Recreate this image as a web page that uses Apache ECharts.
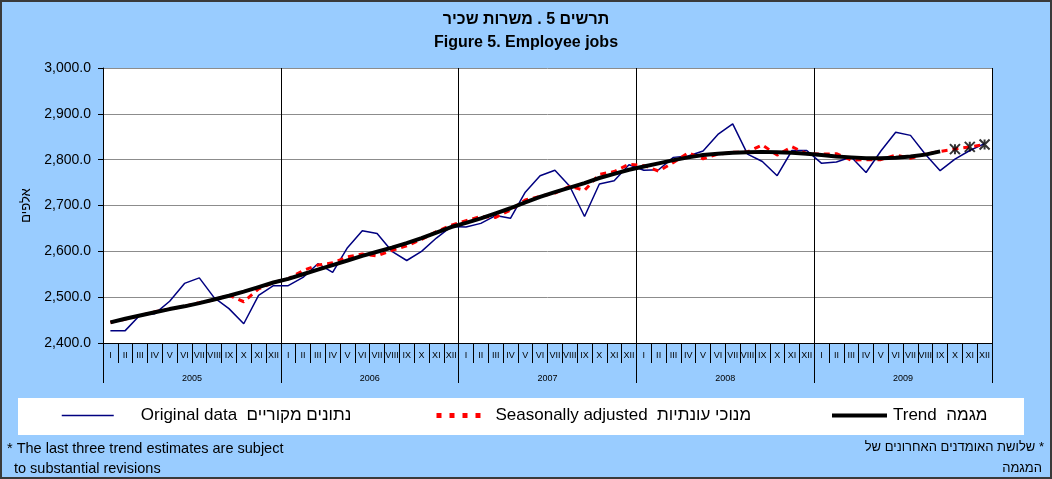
<!doctype html>
<html lang="he">
<head>
<meta charset="UTF-8">
<title>Figure 5. Employee jobs</title>
<style>
    html, body { margin: 0; padding: 0; }
    #main {
        width: 1052px;
        height: 479px;
        box-sizing: border-box;
        border: 2px solid #3a3a3a;
        background: #99ccff;
    }
</style>
</head>
<body>
<div id="main"></div>
<script src="https://cdn.jsdelivr.net/npm/echarts@6/dist/echarts.min.js"></script>
<script>
// categories
var years = ['2005', '2006', '2007', '2008', '2009'];
var monthNames = ['I', 'II', 'III', 'IV', 'V', 'VI', 'VII', 'VIII', 'IX', 'X', 'XI', 'XII'];

// thousands, monthly 2005-2009
var original = [
    2427, 2427, 2461, 2464, 2491, 2530, 2542, 2499, 2475, 2442, 2504, 2525,
    2525, 2543, 2573, 2554, 2608, 2645, 2639, 2600, 2580, 2600, 2629, 2654,
    2653, 2661, 2678, 2672, 2729, 2765, 2777, 2742, 2676, 2747, 2754, 2789,
    2777, 2778, 2805, 2808, 2819, 2855, 2878, 2812, 2796, 2765, 2820, 2820,
    2792, 2795, 2806, 2772, 2819, 2860, 2853, 2812, 2776, 2801, 2820, 2835
];
var seasAdj = [
    2445, 2452, 2460, 2468, 2474, 2480, 2488, 2494, 2504, 2490, 2518, 2532,
    2540, 2558, 2570, 2575, 2588, 2594, 2590, 2602, 2612, 2626, 2643, 2657,
    2667, 2676, 2674, 2690, 2712, 2720, 2727, 2742, 2733, 2768, 2774, 2790,
    2787, 2775, 2794, 2815, 2802, 2812, 2816, 2817, 2832, 2810, 2828, 2813,
    2812, 2813, 2799, 2800, 2800, 2810, 2803, 2812, 2818, 2823, 2828, 2833
];
var trend = [
    2445, 2453, 2460, 2467, 2474, 2480, 2487, 2495, 2503, 2512, 2522, 2532,
    2540, 2550, 2560, 2570, 2580, 2590, 2599, 2608, 2618, 2629, 2641, 2653,
    2662, 2672, 2683, 2694, 2707, 2719, 2729, 2739, 2749, 2760, 2769, 2778,
    2785, 2792, 2799, 2805, 2810, 2813, 2815, 2816, 2817, 2816, 2815, 2813,
    2810, 2807, 2805, 2803, 2803, 2804, 2807, 2811, 2818, null, null, null
];
// last three trend estimates (marked *)
var trendLast = [
    null, null, null, null, null, null, null, null, null, null, null, null,
    null, null, null, null, null, null, null, null, null, null, null, null,
    null, null, null, null, null, null, null, null, null, null, null, null,
    null, null, null, null, null, null, null, null, null, null, null, null,
    null, null, null, null, null, null, null, null, null, 2823, 2828, 2833
];

var categories = [];
years.forEach(function (y) {
    monthNames.forEach(function (m) {
        categories.push(y + '-' + m);
    });
});

var font = 'Arial, "Liberation Sans", sans-serif';
var chart = echarts.init(document.getElementById('main'));

var nameOriginal = 'Original data  נתונים מקוריים';
var nameSeas = 'Seasonally adjusted  מנוכי עונתיות';
var nameTrend = 'Trend  מגמה';

var legendText = { fontSize: 17, color: '#000', fontFamily: font };

var option = {
    animation: false,
    textStyle: { fontFamily: font, color: '#000' },
    title: [{
        text: 'תרשים 5 . משרות שכיר',
        left: 'center',
        top: 5,
        textStyle: { fontSize: 16, fontWeight: 'bold', color: '#000', fontFamily: font }
    }, {
        text: 'Figure 5. Employee jobs',
        left: 'center',
        top: 28,
        textStyle: { fontSize: 16, fontWeight: 'bold', color: '#000', fontFamily: font }
    }],
    legend: [{
        data: [nameOriginal],
        left: 54, top: 400,
        itemWidth: 52, itemHeight: 12,
        itemStyle: { opacity: 0 },
        lineStyle: { width: 1.5 },
        textStyle: Object.assign({ padding: [0, 0, 0, 22] }, legendText)
    }, {
        data: [nameSeas],
        left: 427, top: 400,
        itemWidth: 47, itemHeight: 12,
        itemStyle: { opacity: 0 },
        lineStyle: { width: 5, type: [5, 8] },
        textStyle: Object.assign({ padding: [0, 0, 0, 7] }, legendText)
    }, {
        data: [nameTrend],
        left: 823, top: 400,
        itemWidth: 55, itemHeight: 12,
        itemStyle: { opacity: 0 },
        lineStyle: { width: 4 },
        textStyle: Object.assign({ padding: [0, 0, 0, 1] }, legendText)
    }],
    graphic: [{
        type: 'rect',
        z: -1,
        shape: { x: 16, y: 396, width: 1006, height: 37 },
        style: { fill: '#fff' }
    }, {
        type: 'text',
        left: 5, top: 439,
        style: { text: '* The last three trend estimates are subject', font: '14.5px ' + font, fill: '#000' }
    }, {
        type: 'text',
        left: 12, top: 459,
        style: { text: 'to substantial revisions', font: '14.5px ' + font, fill: '#000' }
    }, {
        type: 'text',
        right: 6, top: 439,
        style: { text: 'שלושת האומדנים האחרונים של *', font: '13px ' + font, fill: '#000' }
    }, {
        type: 'text',
        right: 8, top: 460,
        style: { text: 'המגמה', font: '13px ' + font, fill: '#000' }
    }],
    grid: {
        left: 101, right: 58, top: 66, bottom: 134,
        show: true,
        backgroundColor: '#fff',
        borderWidth: 0
    },
    xAxis: [{
        type: 'category',
        data: categories,
        position: 'bottom',
        axisLine: { lineStyle: { color: '#000', width: 1 } },
        axisTick: { show: true, interval: 0, length: 20, lineStyle: { color: '#000' } },
        axisLabel: {
            interval: 0,
            fontSize: 9,
            margin: 8,
            color: '#000',
            formatter: function (v) { return v.split('-')[1]; }
        },
        splitLine: { show: false }
    }, {
        type: 'category',
        data: years,
        position: 'bottom',
        axisLine: { show: false },
        axisTick: { show: true, interval: 0, length: 40, lineStyle: { color: '#000' } },
        axisLabel: { interval: 0, fontSize: 9, margin: 31, color: '#000' },
        splitLine: { show: true, interval: 0, lineStyle: { color: '#000', width: 1 } }
    }],
    yAxis: {
        type: 'value',
        min: 2400,
        max: 3000,
        interval: 100,
        name: 'אלפים',
        nameLocation: 'middle',
        nameGap: 68,
        nameRotate: 90,
        nameTextStyle: { fontSize: 13, color: '#000', fontFamily: font },
        axisLine: { show: true, lineStyle: { color: '#000' } },
        axisTick: { show: true, length: 5, lineStyle: { color: '#000' } },
        axisLabel: {
            fontSize: 14,
            color: '#000',
            margin: 12,
            formatter: function (v) {
                return v.toLocaleString('en-US', { minimumFractionDigits: 1, maximumFractionDigits: 1 });
            }
        },
        splitLine: { show: true, lineStyle: { color: '#8c8c8c', width: 1 } }
    },
    series: [{
        name: nameOriginal,
        type: 'line',
        data: original,
        symbol: 'none',
        lineStyle: { color: '#000080', width: 1.5 },
        itemStyle: { color: '#000080' },
        z: 2
    }, {
        name: nameSeas,
        type: 'line',
        data: seasAdj,
        symbol: 'none',
        lineStyle: { color: '#ff0000', width: 3, type: [6, 5] },
        itemStyle: { color: '#ff0000' },
        z: 3
    }, {
        name: nameTrend,
        type: 'line',
        data: trend,
        symbol: 'none',
        connectNulls: false,
        lineStyle: { color: '#000', width: 4 },
        itemStyle: { color: '#000' },
        z: 4
    }, {
        name: 'trend*',
        type: 'scatter',
        data: trendLast,
        symbol: 'path://M0,0L10,10M10,0L0,10M5,0L5,10',
        symbolSize: 10,
        itemStyle: { color: 'rgba(0,0,0,0)', borderColor: '#000', borderWidth: 2 },
        z: 5
    }]
};

chart.setOption(option);
</script>
</body>
</html>
